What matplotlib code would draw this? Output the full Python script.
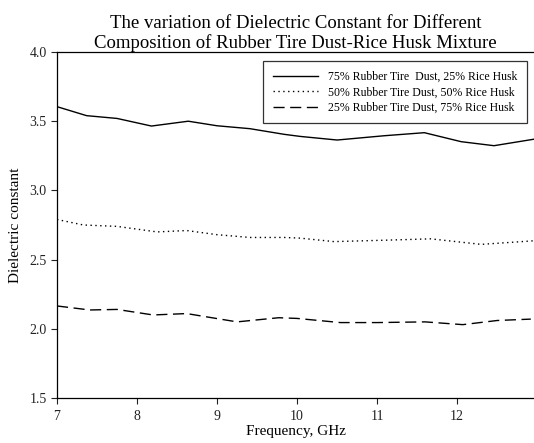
#!/usr/bin/env python

import matplotlib
matplotlib.use('Agg')
import matplotlib.pyplot as plt

# values (frequency in GHz)
freq_75 = [7.0, 7.37, 7.75, 8.18, 8.64, 9.0, 9.41, 9.84, 10.04, 10.5,
           11.09, 11.59, 12.05, 12.46, 12.96]
eps_75 = [3.605, 3.54, 3.52, 3.465, 3.50, 3.467, 3.446, 3.405, 3.39, 3.364,
          3.395, 3.417, 3.352, 3.323, 3.37]

freq_50 = [7.0, 7.33, 7.75, 8.25, 8.62, 9.0, 9.41, 9.84, 10.04, 10.46,
           11.09, 11.67, 12.3, 12.96]
eps_50 = [2.79, 2.75, 2.74, 2.70, 2.71, 2.68, 2.66, 2.66, 2.655, 2.63,
          2.64, 2.65, 2.61, 2.636]

freq_25 = [7.0, 7.41, 7.75, 8.2, 8.62, 9.25, 9.77, 10.0, 10.54, 11.0,
           11.6, 12.07, 12.5, 12.92]
eps_25 = [2.165, 2.136, 2.14, 2.10, 2.11, 2.05, 2.08, 2.075, 2.045, 2.045,
          2.05, 2.03, 2.06, 2.07]

labels = ['75% Rubber Tire  Dust, 25% Rice Husk',
          '50% Rubber Tire Dust, 50% Rice Husk',
          '25% Rubber Tire Dust, 75% Rice Husk']

x_ticks = [7, 8, 9, 10, 11, 12]
y_ticks = [1.5, 2.0, 2.5, 3.0, 3.5, 4.0]

plt.rcParams['font.family'] = ['Liberation Serif', 'DejaVu Serif']

fig = plt.figure(figsize=(5.34, 4.43), dpi=100)
ax = fig.add_axes([57 / 534, 45 / 443, 477 / 534, 346 / 443])

ax.plot(freq_75, eps_75, color='black', lw=1.0, linestyle='-', label=labels[0])
ax.plot(freq_50, eps_50, color='black', lw=1.0, linestyle=(0, (1, 2.5)),
        label=labels[1])
ax.plot(freq_25, eps_25, color='black', lw=1.0, linestyle=(0, (8, 4)),
        label=labels[2])

ax.set_xlim(7, 12.96)
ax.set_ylim(1.5, 4.0)
ax.set_xticks(x_ticks)
ax.set_yticks(y_ticks)
ax.set_yticklabels(['%.1f' % v for v in y_ticks])
ax.tick_params(direction='out', length=4, width=0.8, labelsize=10,
               colors='#222222')
ax.tick_params(axis='x', pad=5)

ax.spines['right'].set_visible(False)
for s in ['left', 'bottom', 'top']:
    ax.spines[s].set_linewidth(0.9)

ax.set_xlabel('Frequency, GHz', fontsize=11, labelpad=1)
ax.set_ylabel('Dielectric constant', fontsize=11, labelpad=5)
ax.set_title('The variation of Dielectric Constant for Different\n'
             'Composition of Rubber Tire Dust-Rice Husk Mixture',
             fontsize=13.5, pad=1, linespacing=1.15)

leg = ax.legend(loc='upper right', fontsize=8.5, frameon=True, fancybox=False,
                edgecolor='black', handlelength=3.8, borderpad=0.8,
                labelspacing=0.3, handletextpad=0.9,
                bbox_to_anchor=(0.998, 0.99))
leg.get_frame().set_linewidth(0.9)

plt.savefig('out.png', dpi=100)
